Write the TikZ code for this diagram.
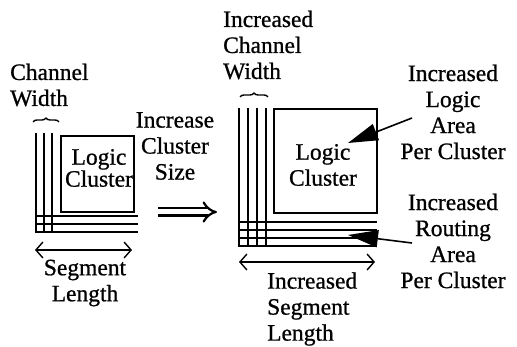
\documentclass[tikz,border=0pt]{standalone}
\usepackage{fontspec}
\setmainfont{Liberation Serif}[FakeBold=0.8]
\usetikzlibrary{arrows.meta,decorations.pathreplacing}
\begin{document}
\begin{tikzpicture}[x=1pt,y=-1pt,
  wire/.style={line width=1.8pt},
  lbl/.style={inner sep=0pt, font=\fontsize{23.5}{26}\selectfont},
  meas/.style={line width=1.4pt, {Straight Barb[length=7pt,width=16pt]}-{Straight Barb[length=7pt,width=16pt]}},
  pointer/.style={line width=1.6pt, -{Triangle[length=30pt,width=17pt]}},
  brc/.style={line width=1.4pt, decorate, decoration={brace, amplitude=4pt}}]
\useasboundingbox (0,0) rectangle (517,347);

% ---- left (small) cluster ----
\foreach \x in {36,44,52} \draw[wire] (\x,133) -- (\x,233);
\foreach \y in {216,224,232} \draw[wire] (36,\y) -- (138,\y);
\draw[wire] (61,136) rectangle (134,212);
\node[lbl, align=center, font=\fontsize{23.5}{22}\selectfont] (lc1) at (99,168) {Logic\\Cluster};
\draw[brc] (33,122) -- (59,122);
\node[lbl, align=left, anchor=west] (cw1) at (10,85) {Channel\\Width};
\coordinate (sl1a) at (35,250);
\coordinate (sl1b) at (132,250);
\draw[meas] (sl1a) -- (sl1b);
\node[lbl, align=center] (sl1) at (85,283) {Segment\\Length};

% ---- middle ----
\node[lbl, align=center] (ics) at (175,146) {Increase\\Cluster\\Size};
\coordinate (da) at (158,212);
\coordinate (db) at (217,212);
\draw[line width=2.2pt, double distance=5pt, -{Implies}] (da) -- (db);

% ---- right (large) cluster ----
\foreach \x in {239,248,257,266} \draw[wire] (\x,108) -- (\x,246);
\foreach \y in {222,230,238,246} \draw[wire] (238,\y) -- (377,\y);
\draw[wire] (274,109) rectangle (377,213);
\node[lbl, align=center] (lc2) at (323,165) {Logic\\Cluster};
\draw[brc] (240,97) -- (268,97);
\node[lbl, align=left, anchor=west] (cw2) at (223,45) {Increased\\Channel\\Width};
\coordinate (sl2a) at (239,262);
\coordinate (sl2b) at (375,262);
\draw[meas] (sl2a) -- (sl2b);
\node[lbl, align=left, anchor=west] (sl2) at (267,309) {Increased\\Segment\\Length};

\node[lbl, align=center] (ila) at (453,112) {Increased\\Logic\\Area\\Per Cluster};
\node[lbl, align=center] (ira) at (453,241) {Increased\\Routing\\Area\\Per Cluster};
\coordinate (p1s) at (412,118);
\coordinate (p1e) at (348,143);
\draw[pointer] (p1s) -- (p1e);
\coordinate (p2s) at (412,243);
\coordinate (p2e) at (348,235);
\draw[pointer] (p2s) -- (p2e);
\end{tikzpicture}
\end{document}
